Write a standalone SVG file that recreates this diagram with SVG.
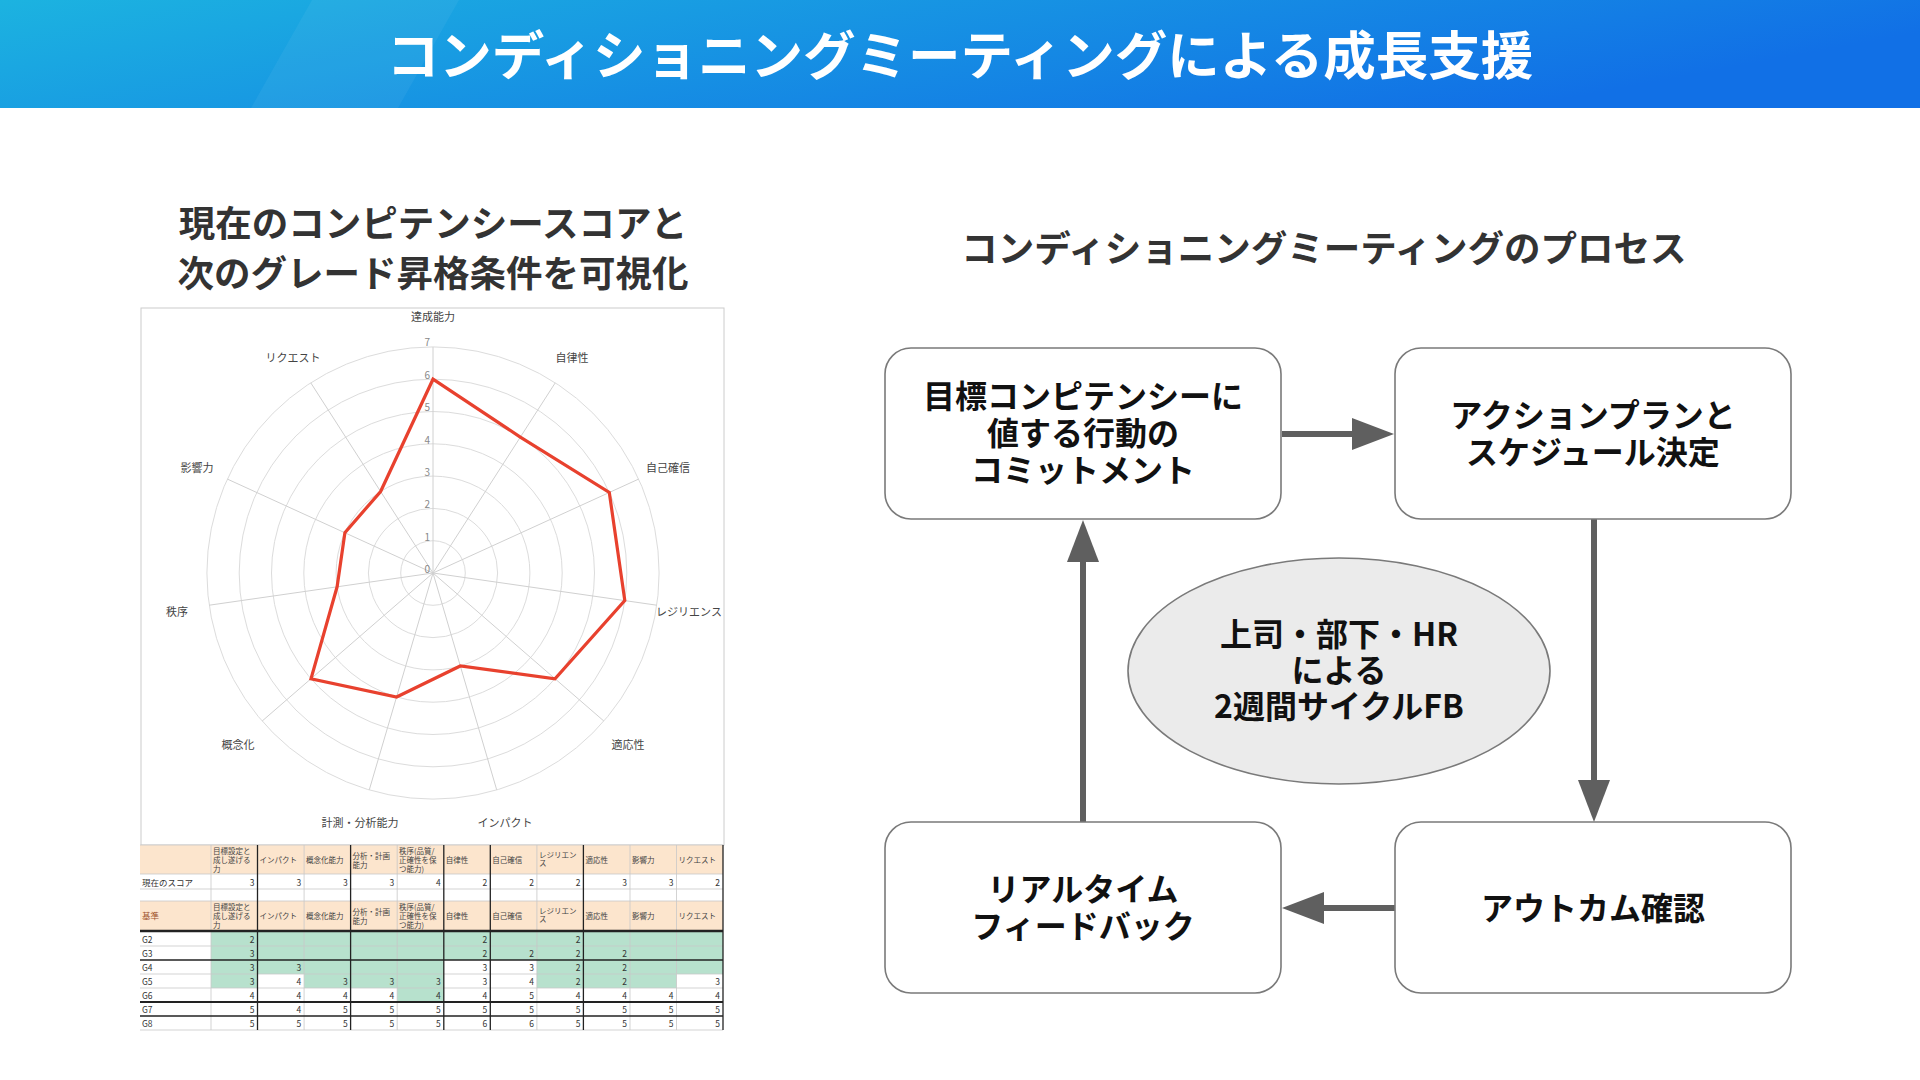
<svg xmlns="http://www.w3.org/2000/svg" width="1920" height="1080" viewBox="0 0 1920 1080">
<defs>
<linearGradient id="hdr" x1="0" y1="0" x2="1" y2="0.3">
<stop offset="0" stop-color="#1cb3e0"/>
<stop offset="1" stop-color="#1170e6"/>
</linearGradient>
<marker id="ah" markerUnits="userSpaceOnUse" markerWidth="42" markerHeight="32" viewBox="0 0 42 32" refX="0" refY="16" orient="auto">
<path d="M0,0 L42,16 L0,32 Z" fill="#5f5f5f"/>
</marker>
<style>
text{font-family:'Noto Sans CJK JP','Noto Sans',sans-serif;}
.title{font-size:52.5px;font-weight:700;fill:#ffffff;}
.sub{font-size:36.5px;font-weight:700;fill:#333333;}
.box{fill:#ffffff;stroke:#7a7a7a;stroke-width:1.6;}
.bt{font-size:32px;font-weight:700;fill:#111111;}
.conn{stroke:#5f5f5f;stroke-width:6;fill:none;marker-end:url(#ah);}
.ring{fill:none;stroke:#dcdcdc;stroke-width:1;}
.spoke{stroke:#d0d0d0;stroke-width:1;}
.rl{font-size:11px;fill:#444444;}
.rn{font-size:10px;fill:#888888;}
.th{font-size:7.5px;fill:#444444;}
.td{font-size:8.5px;fill:#333333;}
.grid{stroke:#c8c8c8;stroke-width:0.8;}
.dark{stroke:#222222;stroke-width:1.3;}
</style>
</defs>

<rect width="1920" height="1080" fill="#ffffff"/>

<g id="header">
<rect x="0" y="0" width="1920" height="108" fill="url(#hdr)"/>
<polygon points="312,0 459,0 398,108 251,108" fill="#ffffff" opacity="0.05"/>
<text class="title" x="960" y="52" text-anchor="middle" dominant-baseline="central">コンディショニングミーティングによる成長支援</text>
</g>

<g id="left-title">
<text class="sub" x="433" y="221" text-anchor="middle" dominant-baseline="central">現在のコンピテンシースコアと</text>
<text class="sub" x="433" y="271" text-anchor="middle" dominant-baseline="central">次のグレード昇格条件を可視化</text>
</g>

<g id="right-title">
<text class="sub" x="1324" y="246" text-anchor="middle" dominant-baseline="central">コンディショニングミーティングのプロセス</text>
</g>

<g id="radar-chart">
<rect x="141" y="308" width="583" height="537" fill="#ffffff" stroke="#cccccc" stroke-width="1"/>
<circle class="ring" cx="433" cy="573" r="32.3"/>
<circle class="ring" cx="433" cy="573" r="64.6"/>
<circle class="ring" cx="433" cy="573" r="96.9"/>
<circle class="ring" cx="433" cy="573" r="129.2"/>
<circle class="ring" cx="433" cy="573" r="161.5"/>
<circle class="ring" cx="433" cy="573" r="193.8"/>
<circle class="ring" cx="433" cy="573" r="226.1"/>
<line class="spoke" x1="433" y1="573" x2="433" y2="347"/>
<line class="spoke" x1="433" y1="573" x2="555.2" y2="382.9"/>
<line class="spoke" x1="433" y1="573" x2="638.6" y2="479.1"/>
<line class="spoke" x1="433" y1="573" x2="656.7" y2="605.2"/>
<line class="spoke" x1="433" y1="573" x2="603.8" y2="721"/>
<line class="spoke" x1="433" y1="573" x2="496.7" y2="789.8"/>
<line class="spoke" x1="433" y1="573" x2="369.3" y2="789.8"/>
<line class="spoke" x1="433" y1="573" x2="262.2" y2="721"/>
<line class="spoke" x1="433" y1="573" x2="209.3" y2="605.2"/>
<line class="spoke" x1="433" y1="573" x2="227.4" y2="479.1"/>
<line class="spoke" x1="433" y1="573" x2="310.8" y2="382.9"/>
<text class="rn" x="430" y="568" text-anchor="end" dominant-baseline="central">0</text>
<text class="rn" x="430" y="536" text-anchor="end" dominant-baseline="central">1</text>
<text class="rn" x="430" y="503" text-anchor="end" dominant-baseline="central">2</text>
<text class="rn" x="430" y="471" text-anchor="end" dominant-baseline="central">3</text>
<text class="rn" x="430" y="439" text-anchor="end" dominant-baseline="central">4</text>
<text class="rn" x="430" y="406" text-anchor="end" dominant-baseline="central">5</text>
<text class="rn" x="430" y="374" text-anchor="end" dominant-baseline="central">6</text>
<text class="rn" x="430" y="341" text-anchor="end" dominant-baseline="central">7</text>
<polygon points="433,379.2 520.3,437.1 609.3,492.5 624.8,600.6 555,678.8 460.3,666 396.6,697 311,678.8 337.1,586.8 344.9,532.7 380.6,491.5" fill="none" stroke="#e8412e" stroke-width="3.2" stroke-linejoin="miter"/>
<text class="rl" x="433" y="316" text-anchor="middle" dominant-baseline="central">達成能力</text>
<text class="rl" x="572" y="357" text-anchor="middle" dominant-baseline="central">自律性</text>
<text class="rl" x="668" y="467" text-anchor="middle" dominant-baseline="central">自己確信</text>
<text class="rl" x="689" y="611" text-anchor="middle" dominant-baseline="central">レジリエンス</text>
<text class="rl" x="628" y="744" text-anchor="middle" dominant-baseline="central">適応性</text>
<text class="rl" x="505" y="822" text-anchor="middle" dominant-baseline="central">インパクト</text>
<text class="rl" x="360" y="822" text-anchor="middle" dominant-baseline="central">計測・分析能力</text>
<text class="rl" x="238" y="744" text-anchor="middle" dominant-baseline="central">概念化</text>
<text class="rl" x="177" y="611" text-anchor="middle" dominant-baseline="central">秩序</text>
<text class="rl" x="197" y="467" text-anchor="middle" dominant-baseline="central">影響力</text>
<text class="rl" x="293" y="357" text-anchor="middle" dominant-baseline="central">リクエスト</text>
</g>

<g id="score-table">
<rect x="140" y="845" width="583" height="29" fill="#fce5cd"/>
<rect x="140" y="874" width="583" height="15" fill="#ffffff"/>
<rect x="140" y="901" width="583" height="29" fill="#fce5cd"/>
<rect x="211" y="932" width="512" height="28" fill="#b7e1cd"/>
<rect x="211" y="960" width="232.8" height="14" fill="#b7e1cd"/>
<rect x="536.9" y="960" width="186.1" height="14" fill="#b7e1cd"/>
<rect x="211" y="974" width="46.5" height="14" fill="#b7e1cd"/>
<rect x="304.1" y="974" width="139.7" height="14" fill="#b7e1cd"/>
<rect x="536.9" y="974" width="139.6" height="14" fill="#b7e1cd"/>
<rect x="397.2" y="988" width="46.6" height="14" fill="#b7e1cd"/>
<g class="grid">
<line x1="140" y1="845" x2="723" y2="845"/>
<line x1="140" y1="874" x2="723" y2="874"/>
<line x1="140" y1="889" x2="723" y2="889"/>
<line x1="140" y1="901" x2="723" y2="901"/>
<line x1="140" y1="946" x2="723" y2="946"/>
<line x1="140" y1="974" x2="723" y2="974"/>
<line x1="140" y1="988" x2="723" y2="988"/>
<line x1="140" y1="1030" x2="723" y2="1030"/>
<line x1="211" y1="845" x2="211" y2="1030"/>
<line x1="304.1" y1="845" x2="304.1" y2="1030"/>
<line x1="397.2" y1="845" x2="397.2" y2="1030"/>
<line x1="536.9" y1="845" x2="536.9" y2="1030"/>
<line x1="630" y1="845" x2="630" y2="1030"/>
<line x1="676.5" y1="845" x2="676.5" y2="1030"/>
</g>
<g class="dark">
<line x1="257.5" y1="845" x2="257.5" y2="1030"/>
<line x1="350.6" y1="845" x2="350.6" y2="1030"/>
<line x1="443.8" y1="845" x2="443.8" y2="1030"/>
<line x1="490.3" y1="845" x2="490.3" y2="1030"/>
<line x1="583.4" y1="845" x2="583.4" y2="1030"/>
<line x1="723" y1="845" x2="723" y2="1030"/>
<line x1="140" y1="960" x2="723" y2="960"/>
<line x1="140" y1="1016" x2="723" y2="1016"/>
<line x1="140" y1="1002" x2="723" y2="1002" stroke-width="1.8"/>
<line x1="140" y1="931" x2="723" y2="931" stroke-width="2.6"/>
</g>
<g class="th" dominant-baseline="central">
<text x="213" y="850">目標設定と</text><text x="213" y="859">成し遂げる</text><text x="213" y="868">力</text>
<text x="259.5" y="859">インパクト</text>
<text x="306" y="859">概念化能力</text>
<text x="352.5" y="855">分析・計画</text><text x="352.5" y="864">能力</text>
<text x="399" y="850">秩序(品質/</text><text x="399" y="859">正確性を保</text><text x="399" y="868">つ能力)</text>
<text x="445.8" y="859">自律性</text>
<text x="492.3" y="859">自己確信</text>
<text x="538.9" y="854">レジリエン</text><text x="538.9" y="862">ス</text>
<text x="585.4" y="859">適応性</text>
<text x="632" y="859">影響力</text>
<text x="678.5" y="859">リクエスト</text>
<text x="213" y="906">目標設定と</text><text x="213" y="915">成し遂げる</text><text x="213" y="924">力</text>
<text x="259.5" y="915">インパクト</text>
<text x="306" y="915">概念化能力</text>
<text x="352.5" y="911">分析・計画</text><text x="352.5" y="920">能力</text>
<text x="399" y="906">秩序(品質/</text><text x="399" y="915">正確性を保</text><text x="399" y="924">つ能力)</text>
<text x="445.8" y="915">自律性</text>
<text x="492.3" y="915">自己確信</text>
<text x="538.9" y="910">レジリエン</text><text x="538.9" y="918">ス</text>
<text x="585.4" y="915">適応性</text>
<text x="632" y="915">影響力</text>
<text x="678.5" y="915">リクエスト</text>
</g>
<g class="td" dominant-baseline="central">
<text x="142" y="881.5">現在のスコア</text>
<text x="142" y="915" fill="#a0522d">基準</text>
<text x="142" y="939">G2</text>
<text x="142" y="953">G3</text>
<text x="142" y="967">G4</text>
<text x="142" y="981">G5</text>
<text x="142" y="995">G6</text>
<text x="142" y="1009">G7</text>
<text x="142" y="1023">G8</text>
</g>
<g class="td" text-anchor="end" dominant-baseline="central">
<text x="254.5" y="881.5">3</text><text x="301.1" y="881.5">3</text><text x="347.6" y="881.5">3</text><text x="394.2" y="881.5">3</text><text x="440.8" y="881.5">4</text><text x="487.3" y="881.5">2</text><text x="533.9" y="881.5">2</text><text x="580.4" y="881.5">2</text><text x="627" y="881.5">3</text><text x="673.5" y="881.5">3</text><text x="720" y="881.5">2</text>
<text x="254.5" y="939">2</text><text x="487.3" y="939">2</text><text x="580.4" y="939">2</text>
<text x="254.5" y="953">3</text><text x="487.3" y="953">2</text><text x="533.9" y="953">2</text><text x="580.4" y="953">2</text><text x="627" y="953">2</text>
<text x="254.5" y="967">3</text><text x="301.1" y="967">3</text><text x="487.3" y="967">3</text><text x="533.9" y="967">3</text><text x="580.4" y="967">2</text><text x="627" y="967">2</text>
<text x="254.5" y="981">3</text><text x="301.1" y="981">4</text><text x="347.6" y="981">3</text><text x="394.2" y="981">3</text><text x="440.8" y="981">3</text><text x="487.3" y="981">3</text><text x="533.9" y="981">4</text><text x="580.4" y="981">2</text><text x="627" y="981">2</text><text x="720" y="981">3</text>
<text x="254.5" y="995">4</text><text x="301.1" y="995">4</text><text x="347.6" y="995">4</text><text x="394.2" y="995">4</text><text x="440.8" y="995">4</text><text x="487.3" y="995">4</text><text x="533.9" y="995">5</text><text x="580.4" y="995">4</text><text x="627" y="995">4</text><text x="673.5" y="995">4</text><text x="720" y="995">4</text>
<text x="254.5" y="1009">5</text><text x="301.1" y="1009">4</text><text x="347.6" y="1009">5</text><text x="394.2" y="1009">5</text><text x="440.8" y="1009">5</text><text x="487.3" y="1009">5</text><text x="533.9" y="1009">5</text><text x="580.4" y="1009">5</text><text x="627" y="1009">5</text><text x="673.5" y="1009">5</text><text x="720" y="1009">5</text>
<text x="254.5" y="1023">5</text><text x="301.1" y="1023">5</text><text x="347.6" y="1023">5</text><text x="394.2" y="1023">5</text><text x="440.8" y="1023">5</text><text x="487.3" y="1023">6</text><text x="533.9" y="1023">6</text><text x="580.4" y="1023">5</text><text x="627" y="1023">5</text><text x="673.5" y="1023">5</text><text x="720" y="1023">5</text>
</g>
</g>

<g id="connectors">
<line class="conn" x1="1282" y1="434" x2="1352" y2="434"/>
<line class="conn" x1="1594" y1="519" x2="1594" y2="780"/>
<line class="conn" x1="1395" y1="908" x2="1324" y2="908"/>
<line class="conn" x1="1083" y1="822" x2="1083" y2="562"/>
</g>

<g id="node-commitment">
<rect class="box" x="885" y="348" width="396" height="171" rx="26"/>
<text class="bt" x="1083" y="394" text-anchor="middle" dominant-baseline="central">目標コンピテンシーに</text>
<text class="bt" x="1083" y="431" text-anchor="middle" dominant-baseline="central">値する行動の</text>
<text class="bt" x="1083" y="468" text-anchor="middle" dominant-baseline="central">コミットメント</text>
</g>

<g id="node-action-plan">
<rect class="box" x="1395" y="348" width="396" height="171" rx="26"/>
<text class="bt" x="1593" y="413" text-anchor="middle" dominant-baseline="central">アクションプランと</text>
<text class="bt" x="1593" y="450" text-anchor="middle" dominant-baseline="central">スケジュール決定</text>
</g>

<g id="node-outcome">
<rect class="box" x="1395" y="822" width="396" height="171" rx="26"/>
<text class="bt" x="1593" y="906" text-anchor="middle" dominant-baseline="central">アウトカム確認</text>
</g>

<g id="node-feedback">
<rect class="box" x="885" y="822" width="396" height="171" rx="26"/>
<text class="bt" x="1083" y="887" text-anchor="middle" dominant-baseline="central">リアルタイム</text>
<text class="bt" x="1083" y="924" text-anchor="middle" dominant-baseline="central">フィードバック</text>
</g>

<g id="node-cycle">
<ellipse cx="1339" cy="671" rx="211" ry="113" fill="#ebebeb" stroke="#7a7a7a" stroke-width="1.6"/>
<text class="bt" x="1339" y="632" text-anchor="middle" dominant-baseline="central">上司・部下・HR</text>
<text class="bt" x="1339" y="668" text-anchor="middle" dominant-baseline="central">による</text>
<text class="bt" x="1339" y="704" text-anchor="middle" dominant-baseline="central">2週間サイクルFB</text>
</g>
</svg>
